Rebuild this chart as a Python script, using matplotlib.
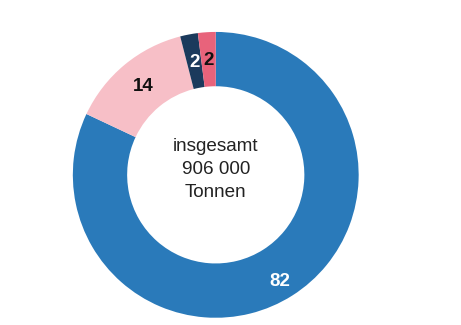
import numpy as np
import matplotlib.pyplot as plt

plt.rcParams['font.family'] = ['Liberation Sans', 'DejaVu Sans']

# --- dane (udzialy w %) ---
udzialy = [82, 14, 2, 2]
kolory = ["#2a7aba", "#f7bfc7", "#1b3a5c", "#e8637b"]
kolory_etykiet = ["white", "#111111", "white", "#111111"]
etykiety = ["82", "14", "2", "2"]
srodek_tekst = "insgesamt\n906 000\nTonnen"

fig = plt.figure(figsize=(4.61, 3.25), dpi=100)
ax = fig.add_axes([0.158, 0.022, 0.62, 0.88])

wedges, _ = ax.pie(udzialy, colors=kolory, startangle=90, counterclock=False,
                   radius=1.0, wedgeprops=dict(width=0.38, linewidth=0))

# etykiety w srodku pierscienia
suma = sum(udzialy)
kat = 90.0
for i in range(len(udzialy)):
    rozpietosc = udzialy[i] / suma * 360
    srodek = np.deg2rad(kat - rozpietosc / 2)
    r = 0.87 if i == 0 else 0.80
    if i == 0:
        srodek = srodek - np.deg2rad(1.5)
    ax.text(r * np.cos(srodek), r * np.sin(srodek), etykiety[i],
            ha="center", va="center", fontsize=13.5, fontweight="bold",
            color=kolory_etykiet[i])
    kat -= rozpietosc

ax.text(0, 0.035, srodek_tekst, ha="center", va="center", fontsize=13.6,
        color="#222222", linespacing=1.45)

ax.set_xlim(-1.0, 1.0)
ax.set_ylim(-1.0, 1.0)
ax.set_aspect("equal")
ax.axis("off")

plt.savefig("out.png", dpi=100)
